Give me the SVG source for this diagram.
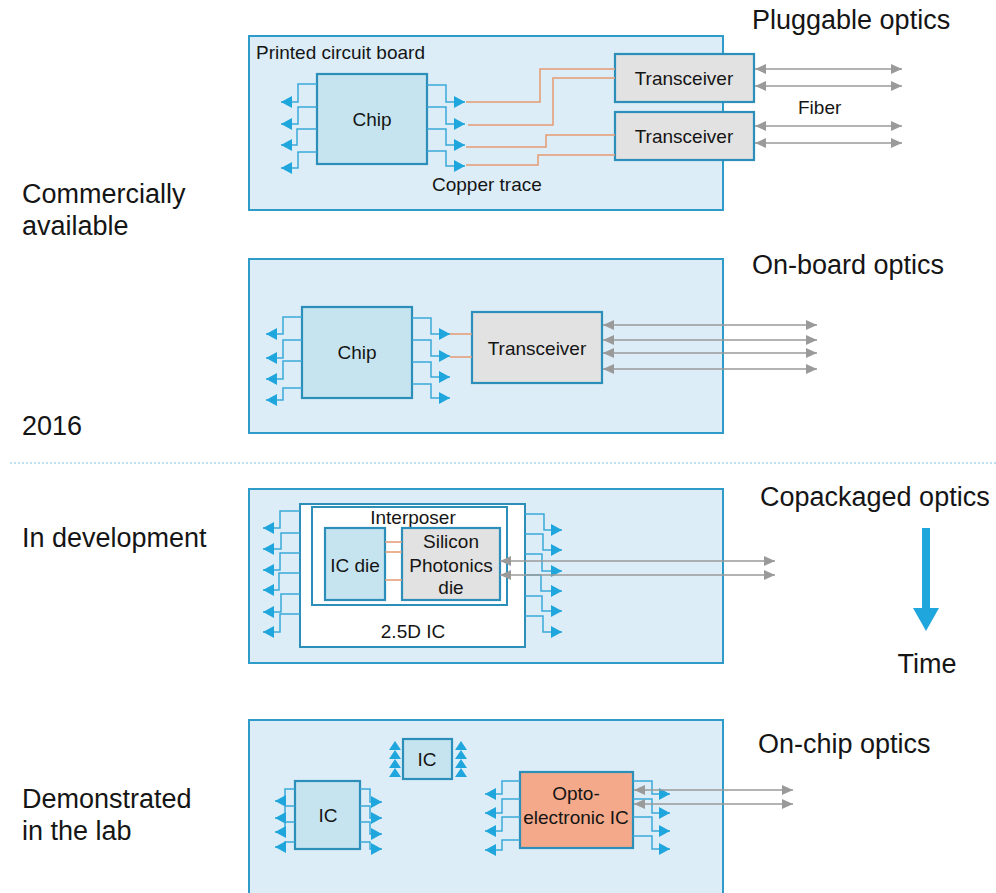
<svg xmlns="http://www.w3.org/2000/svg" width="996" height="893" viewBox="0 0 996 893">
  <style>
    .panel { fill: #dcedf8; stroke: #2f9bc9; stroke-width: 2; }
    .chip { fill: #c6e4f0; stroke: #2b8fb9; stroke-width: 2.2; }
    .xcvr { fill: #e2e2e2; stroke: #2b8fb9; stroke-width: 2.2; }
    .pkg { fill: #ffffff; stroke: #2b8fb9; stroke-width: 2; }
    .opto { fill: #f4a98a; stroke: #2b8fb9; stroke-width: 2.2; }
    .lead { fill: none; stroke: #3aa9d8; stroke-width: 1.5; marker-end: url(#blueHead); }
    .copper { fill: none; stroke: #e59a70; stroke-width: 1.5; }
    .fiber { fill: none; stroke: #9a9a9a; stroke-width: 1.6; marker-start: url(#grayHead); marker-end: url(#grayHead); }
    .pin { fill: #1fa6dc; }
    text { font-family: "Liberation Sans", Arial, sans-serif; fill: #151515; }
    .big { font-size: 27px; }
    .lbl { font-size: 19px; }
    .mid { text-anchor: middle; }
  </style>
  <defs>
    <marker id="blueHead" markerUnits="userSpaceOnUse" markerWidth="12" markerHeight="12" refX="11" refY="6" orient="auto">
      <path d="M0,0 L11,6 L0,12 z" fill="#1fa6dc"/>
    </marker>
    <marker id="grayHead" markerUnits="userSpaceOnUse" markerWidth="12" markerHeight="10" refX="11" refY="5" orient="auto-start-reverse">
      <path d="M0,0 L11,5 L0,10 z" fill="#9a9a9a"/>
    </marker>
  </defs>

  <!-- Side labels -->
  <g id="side-labels">
    <text class="big" x="22" y="203">Commercially</text>
    <text class="big" x="22" y="235">available</text>
    <text class="big" x="22" y="435">2016</text>
    <text class="big" x="22" y="547">In development</text>
    <text class="big" x="22" y="808">Demonstrated</text>
    <text class="big" x="22" y="840">in the lab</text>
  </g>

  <line id="divider" x1="10" y1="463" x2="996" y2="463" stroke="#7cc3e3" stroke-width="1.2" stroke-dasharray="2,2"/>

  <!-- Panel 1: pluggable optics -->
  <g id="pluggable">
    <rect class="panel" x="249" y="36" width="474" height="174"/>
    <text class="lbl" x="256" y="59">Printed circuit board</text>
    <text class="big" x="752" y="29">Pluggable optics</text>
    <text class="lbl" x="432" y="191">Copper trace</text>
    <text class="lbl" x="798" y="114">Fiber</text>
  </g>
  <g id="chip1">
    <rect class="chip" x="317" y="74" width="110" height="90"/>
    <text class="lbl mid" x="372" y="126">Chip</text>
  </g>
  <g id="transceiver1a">
    <rect class="xcvr" x="615" y="54" width="139" height="48"/>
    <text class="lbl mid" x="684" y="85">Transceiver</text>
  </g>
  <g id="transceiver1b">
    <rect class="xcvr" x="615" y="112" width="139" height="48"/>
    <text class="lbl mid" x="684" y="143">Transceiver</text>
  </g>

  <!-- Panel 2: on-board optics -->
  <g id="onboard">
    <rect class="panel" x="249" y="259" width="474" height="174"/>
    <text class="big" x="752" y="274">On-board optics</text>
  </g>
  <g id="chip2">
    <rect class="chip" x="302" y="307" width="110" height="91"/>
    <text class="lbl mid" x="357" y="359">Chip</text>
  </g>
  <g id="transceiver2">
    <rect class="xcvr" x="472" y="312" width="130" height="71"/>
    <text class="lbl mid" x="537" y="355">Transceiver</text>
  </g>

  <!-- Panel 3: copackaged optics -->
  <g id="copackaged">
    <rect class="panel" x="249" y="489" width="474" height="174"/>
    <text class="big" x="760" y="506">Copackaged optics</text>
  </g>
  <g id="ic25d">
    <rect class="pkg" x="300" y="504" width="225" height="143"/>
    <text class="lbl mid" x="413" y="638">2.5D IC</text>
  </g>
  <g id="interposer">
    <rect class="pkg" x="312" y="507" width="195" height="98"/>
    <text class="lbl mid" x="413" y="524">Interposer</text>
  </g>
  <g id="icdie">
    <rect class="chip" x="325" y="528" width="60" height="72"/>
    <text class="lbl mid" x="355" y="572">IC die</text>
  </g>
  <g id="sipdie">
    <rect class="xcvr" x="402" y="528" width="98" height="72"/>
    <text class="lbl mid" x="451" y="548">Silicon</text>
    <text class="lbl mid" x="451" y="572">Photonics</text>
    <text class="lbl mid" x="451" y="594">die</text>
  </g>

  <!-- Time arrow -->
  <g id="time">
    <rect x="922" y="528" width="8" height="82" fill="#1fa6dc"/>
    <polygon points="913,608 939,608 926,631" fill="#1fa6dc"/>
    <text class="big mid" x="927" y="673">Time</text>
  </g>

  <!-- Panel 4: on-chip optics -->
  <g id="onchip">
    <rect class="panel" x="249" y="720" width="474" height="185"/>
    <text class="big" x="758" y="753">On-chip optics</text>
  </g>
  <g id="ic-small">
    <rect class="chip" x="403" y="739" width="49" height="40"/>
    <text class="lbl mid" x="427" y="766">IC</text>
    <g class="pin">
      <polygon points="389,750 395,741 401,750"/>
      <polygon points="389,759 395,750 401,759"/>
      <polygon points="389,768 395,759 401,768"/>
      <polygon points="389,777 395,768 401,777"/>
      <polygon points="455,750 461,741 467,750"/>
      <polygon points="455,759 461,750 467,759"/>
      <polygon points="455,768 461,759 467,768"/>
      <polygon points="455,777 461,768 467,777"/>
    </g>
  </g>
  <g id="ic-large">
    <rect class="chip" x="295" y="781" width="65" height="68"/>
    <text class="lbl mid" x="328" y="822">IC</text>
  </g>
  <g id="optoic">
    <rect class="opto" x="520" y="772" width="113" height="76"/>
    <text class="lbl mid" x="576" y="800">Opto-</text>
    <text class="lbl mid" x="576" y="824">electronic IC</text>
  </g>

  <!-- Connectors -->
  <g id="connectors">
    <!-- chip 1 pins -->
    <path class="lead" d="M317,84 H298 V102 H281"/>
    <path class="lead" d="M317,107 H298 V124 H281"/>
    <path class="lead" d="M317,129 H297 V145 H281"/>
    <path class="lead" d="M317,152 H298 V168 H281"/>
    <path class="lead" d="M427,85 H446 V102 H465"/>
    <path class="lead" d="M427,107 H446 V124 H465"/>
    <path class="lead" d="M427,129 H446 V145 H465"/>
    <path class="lead" d="M427,151 H446 V166 H465"/>
    <!-- copper traces -->
    <path class="copper" d="M466,102 H540 V69 H615"/>
    <path class="copper" d="M468,125 H553 V78 H615"/>
    <path class="copper" d="M466,147 H546 V135 H615"/>
    <path class="copper" d="M466,165 H538 V155 H615"/>
    <!-- pluggable fibers -->
    <path class="fiber" d="M755,69 H902"/>
    <path class="fiber" d="M755,86 H902"/>
    <path class="fiber" d="M755,126 H902"/>
    <path class="fiber" d="M755,143 H902"/>

    <!-- chip 2 pins -->
    <path class="lead" d="M302,317 H283 V334 H266"/>
    <path class="lead" d="M302,340 H283 V358 H266"/>
    <path class="lead" d="M302,361 H283 V379 H266"/>
    <path class="lead" d="M302,388 H283 V400 H266"/>
    <path class="lead" d="M412,318 H431 V334 H450"/>
    <path class="lead" d="M412,340 H431 V356 H450"/>
    <path class="lead" d="M412,362 H431 V377 H450"/>
    <path class="lead" d="M412,384 H431 V398 H450"/>
    <path class="copper" d="M450,334 H472"/>
    <path class="copper" d="M450,357 H472"/>
    <!-- on-board fibers -->
    <path class="fiber" d="M603,325 H817"/>
    <path class="fiber" d="M603,340 H817"/>
    <path class="fiber" d="M603,353 H817"/>
    <path class="fiber" d="M603,369 H817"/>

    <!-- 2.5D IC pins -->
    <path class="lead" d="M300,511 H280 V528 H263"/>
    <path class="lead" d="M300,533 H281 V549 H263"/>
    <path class="lead" d="M300,553 H280 V570 H263"/>
    <path class="lead" d="M300,573 H279 V590 H263"/>
    <path class="lead" d="M300,594 H281 V612 H263"/>
    <path class="lead" d="M300,614 H280 V632 H263"/>
    <path class="lead" d="M525,514 H544 V530 H562"/>
    <path class="lead" d="M525,534 H543 V550 H562"/>
    <path class="lead" d="M525,554 H542 V571 H562"/>
    <path class="lead" d="M525,575 H541 V591 H562"/>
    <path class="lead" d="M525,596 H542 V611 H562"/>
    <path class="lead" d="M525,616 H543 V632 H562"/>
    <path class="copper" d="M385,542 H402"/>
    <path class="copper" d="M385,552 H402"/>
    <path class="copper" d="M385,580 H402"/>
    <!-- copackaged fibers -->
    <path class="fiber" d="M500,561 H775"/>
    <path class="fiber" d="M500,575 H775"/>

    <!-- large IC pins -->
    <path class="lead" d="M295,789 H285 V801 H275"/>
    <path class="lead" d="M295,806 H285 V818 H275"/>
    <path class="lead" d="M295,822 H285 V832 H275"/>
    <path class="lead" d="M295,842 H285 V847 H275"/>
    <path class="lead" d="M360,789 H370 V802 H382"/>
    <path class="lead" d="M360,806 H370 V818 H382"/>
    <path class="lead" d="M360,822 H370 V834 H382"/>
    <path class="lead" d="M360,842 H370 V849 H382"/>

    <!-- opto-electronic IC pins -->
    <path class="lead" d="M520,781 H502 V794 H485"/>
    <path class="lead" d="M520,799 H502 V813 H485"/>
    <path class="lead" d="M520,817 H502 V831 H485"/>
    <path class="lead" d="M520,840 H502 V850 H485"/>
    <path class="lead" d="M633,781 H652 V794 H670"/>
    <path class="lead" d="M633,799 H652 V813 H670"/>
    <path class="lead" d="M633,817 H652 V831 H670"/>
    <path class="lead" d="M633,836 H652 V849 H670"/>
    <!-- on-chip fibers -->
    <path class="fiber" d="M634,790 H793"/>
    <path class="fiber" d="M634,804 H793"/>
  </g>
</svg>
